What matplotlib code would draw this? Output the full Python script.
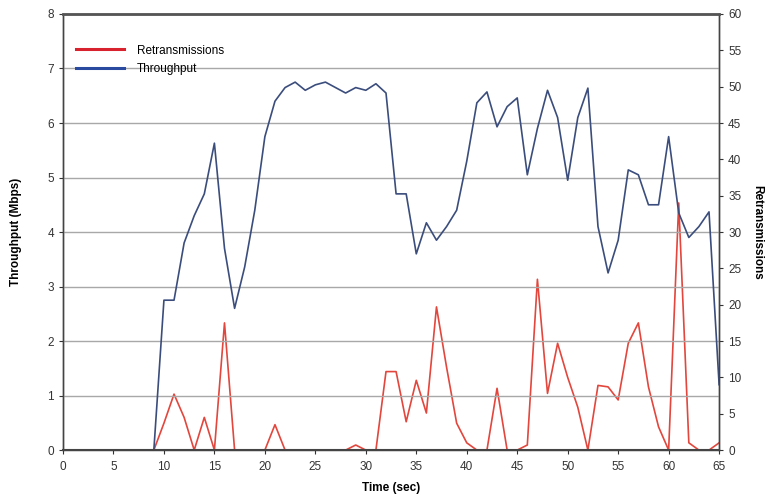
import numpy as np
import matplotlib
matplotlib.use("Agg")
import matplotlib.pyplot as plt

plt.rcParams["font.family"] = ["Liberation Sans", "DejaVu Sans"]

# time axis (sec), one sample per second
time_s = list(range(0, 66))

# throughput in Mbps (left axis)
throughput = [0, 0, 0, 0, 0, 0, 0, 0, 0, 0,
              2.75, 2.75, 3.8, 4.3, 4.7, 5.63, 3.7, 2.6, 3.36, 4.4,
              5.75, 6.4, 6.65, 6.75, 6.6, 6.7, 6.75, 6.65, 6.55, 6.65,
              6.6, 6.72, 6.55, 4.7, 4.7, 3.6, 4.17, 3.85, 4.1, 4.4,
              5.3, 6.37, 6.57, 5.93, 6.3, 6.46, 5.05, 5.9, 6.6, 6.1,
              4.95, 6.1, 6.64, 4.1, 3.25, 3.85, 5.14, 5.05, 4.5, 4.5,
              5.75, 4.35, 3.9, 4.1, 4.37, 1.2]

# retransmissions count (right axis)
retrans = [0, 0, 0, 0, 0, 0, 0, 0, 0, 0,
           3.7, 7.7, 4.5, 0, 4.5, 0, 17.5, 0, 0, 0,
           0, 3.5, 0, 0, 0, 0, 0, 0, 0, 0.7,
           0, 0, 10.8, 10.8, 3.9, 9.6, 5.1, 19.7, 11.4, 3.7,
           1, 0, 0, 8.5, 0, 0, 0.7, 23.5, 7.8, 14.7,
           10, 5.9, 0, 8.9, 8.7, 6.9, 14.7, 17.5, 8.7, 3.2,
           0, 34, 1, 0, 0, 1]

left_ticks = list(range(0, 9))
right_ticks = list(range(0, 61, 5))
x_ticks = list(range(0, 66, 5))

fig = plt.figure(figsize=(7.71, 4.99), dpi=100)
ax = fig.add_axes([0.0817, 0.098, 0.851, 0.874])
ax2 = ax.twinx()

ax.set_zorder(ax2.get_zorder() + 1)
ax.patch.set_visible(False)

for v in left_ticks[1:-1]:
    ax.axhline(v, color="#a8a8a8", lw=1.0, zorder=0)

l_tp, = ax.plot(time_s, throughput, color="#3b4d7c", lw=1.2, label="Throughput")
l_rt, = ax2.plot(time_s, retrans, color="#e2463c", lw=1.2, label="Retransmissions")

ax.set_xlim(0, 65)
ax.set_ylim(0, 8)
ax2.set_ylim(0, 60)
ax.set_xticks(x_ticks)
ax.set_yticks(left_ticks)
ax2.set_yticks(right_ticks)

for a in (ax, ax2):
    a.tick_params(labelsize=8.5, length=3, width=0.8, colors="#333333")
    for s in a.spines.values():
        s.set_color("#444444")
        s.set_linewidth(1.0)
ax.tick_params(axis="x", pad=5)
ax.spines["top"].set_linewidth(2.0)
ax.spines["top"].set_color("#555555")
ax.spines["bottom"].set_linewidth(1.5)

ax.set_xlabel("Time (sec)", fontsize=8.5, fontweight="bold", labelpad=6)
ax.set_ylabel("Throughput (Mbps)", fontsize=8.5, fontweight="bold", labelpad=18)
ax2.set_ylabel("Retransmissions", fontsize=8.5, fontweight="bold",
               rotation=270, labelpad=16)

leg_rt, = ax.plot([], [], color="#d8232e", lw=2.2, label="Retransmissions")
leg_tp, = ax.plot([], [], color="#2a4aa0", lw=2.2, label="Throughput")
ax.legend(handles=[leg_rt, leg_tp], loc="upper left", bbox_to_anchor=(-0.003, 0.965),
          frameon=False, fontsize=8.5, handlelength=4.0, labelspacing=0.55,
          borderaxespad=0.9, handletextpad=1.1)

plt.savefig("out.png", dpi=100)
plt.close()
